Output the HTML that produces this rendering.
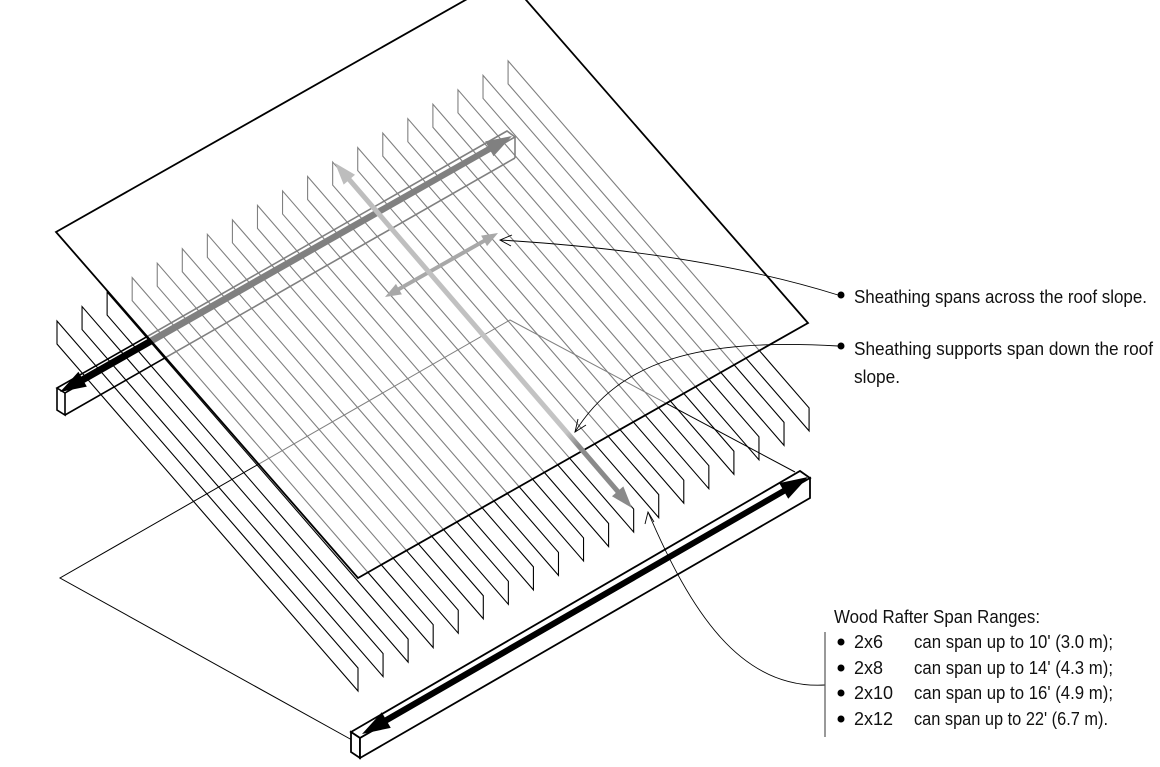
<!DOCTYPE html>
<html><head><meta charset="utf-8"><style>
html,body{margin:0;padding:0;background:#fff;}
svg{display:block;}
text{font-family:"Liberation Sans Narrow","Liberation Sans",sans-serif;font-size:18px;fill:#111;}
</style></head><body>
<svg id="fig" width="1160" height="767" viewBox="0 0 1160 767" xmlns="http://www.w3.org/2000/svg">
<defs>
<linearGradient id="downGrad" gradientUnits="userSpaceOnUse" x1="335" y1="163" x2="632" y2="508">
<stop offset="0" stop-color="#bdbdbd"/><stop offset="0.78" stop-color="#c4c4c4"/><stop offset="0.82" stop-color="#8a8a8a"/><stop offset="1" stop-color="#8a8a8a"/>
</linearGradient>
</defs>
<g id="rafters" fill="none" stroke="#000" stroke-width="1.1"></g>
<g fill="none" stroke="#000" stroke-width="1">
<polyline points="352,740 60,578 510,320 795,472"/>
</g>
<g id="topbeam" fill="none" stroke="#000" stroke-width="1.6">
<polygon points="57,388 507,131 515,137 65,393"/>
<polyline points="57,388 57,410 65,415 65,393"/>
<line x1="65" y1="415" x2="515" y2="158"/>
<line x1="515" y1="137" x2="515" y2="158"/>
</g>
<g id="topArrow"></g>
<polygon points="56,232 506,-23 808,323 358,578" fill="#fff" fill-opacity="0.5" stroke="#000" stroke-width="1.8"/>
<g id="arrows"></g>
<g id="bottombeam" fill="#fff" stroke="#000" stroke-width="1.8">
<polygon points="351,732 800,471 810,478 360,738"/>
<polygon points="351,732 360,738 360,758 351,752"/>
<polygon points="360,738 810,478 810,498 360,758"/>
</g>
<g id="bottomArrow"></g>
<g fill="none" stroke="#000" stroke-width="0.9">
<path d="M838,295 Q700,252 500,240"/>
<polyline points="512,235 500,240 511,246"/>
<path d="M838,346 C700,338 620,360 575,432"/>
<polyline points="578,419 575,432 586,425"/>
<path d="M825,685 C740,690 690,610 648,512"/>
<polyline points="645,524 648,512 654,522"/>
<line x1="825" y1="632" x2="825" y2="737" stroke="#555" stroke-width="1.2"/>
</g>
<g>
<circle cx="841" cy="295" r="3.5" fill="#000"/>
<text x="854" y="303" textLength="293" lengthAdjust="spacingAndGlyphs">Sheathing spans across the roof slope.</text>
<circle cx="841" cy="346" r="3.5" fill="#000"/>
<text x="854" y="355" textLength="299" lengthAdjust="spacingAndGlyphs">Sheathing supports span down the roof</text>
<text x="854" y="383" textLength="46" lengthAdjust="spacingAndGlyphs">slope.</text>
</g>
<g id="legend">
<text x="834" y="623" textLength="206" lengthAdjust="spacingAndGlyphs">Wood Rafter Span Ranges:</text>
</g>
</svg>
<script>
const rafterIndex = [0,1,2,3,4,5,6,7,8,9,10,11,12,13,14,15,16,17,18];
const sizes = ["2x6","2x8","2x10","2x12"];
const spans = ["can span up to 10' (3.0 m);","can span up to 14' (4.3 m);","can span up to 16' (4.9 m);","can span up to 22' (6.7 m)."];
const NS="http://www.w3.org/2000/svg";
const rg=document.getElementById('rafters');
rafterIndex.forEach(i=>{
  const x0=57+25.06*i, y0=321-14.45*i, x1=x0+301, y1=y0+347, h=23;
  const p=document.createElementNS(NS,'polygon');
  p.setAttribute('points',`${x0},${y0} ${x1},${y1} ${x1},${y1+h} ${x0},${y0+h}`);
  
  
  rg.appendChild(p);
});
function arrow(parent,x1,y1,x2,y2,w,hl,hw,color,h1,h2){
  const dx=x2-x1,dy=y2-y1,L=Math.hypot(dx,dy),ux=dx/L,uy=dy/L,nx=-uy,ny=ux;
  const sx=h1?x1+ux*hl*0.8:x1, sy=h1?y1+uy*hl*0.8:y1, ex=h2?x2-ux*hl*0.8:x2, ey=h2?y2-uy*hl*0.8:y2;
  const l=document.createElementNS(NS,'line');
  l.setAttribute('x1',sx);l.setAttribute('y1',sy);l.setAttribute('x2',ex);l.setAttribute('y2',ey);
  l.setAttribute('stroke',color);l.setAttribute('stroke-width',w);
  
  
  parent.appendChild(l);
  const head=(tx,ty,dxu,dyu)=>{
    const bx=tx-dxu*hl,by=ty-dyu*hl;
    const pg=document.createElementNS(NS,'polygon');
    pg.setAttribute('points',`${tx},${ty} ${bx+nx*hw/2},${by+ny*hw/2} ${bx-nx*hw/2},${by-ny*hw/2}`);
    pg.setAttribute('fill',color);
    
    
    parent.appendChild(pg);
  };
  if(h2) head(x2,y2,ux,uy);
  if(h1) head(x1,y1,-ux,-uy);
}
arrow(document.getElementById('topArrow'),60,392,512,136,6,26,17,'#000',true,true);
const ar=document.getElementById('arrows');
arrow(ar,385,297,498,233,4,16,12,'#a8a8a8',true,true);
arrow(ar,335,163,632,508,5,22,15,'url(#downGrad)',true,true);
ar.lastChild.setAttribute('fill','#bdbdbd');
ar.children[ar.children.length-2].setAttribute('fill','#8a8a8a');
arrow(document.getElementById('bottomArrow'),362,734,808,477,6,28,18,'#000',true,true);
const lg=document.getElementById('legend');
const rowsY=[648,674,699,725];
sizes.forEach((s,i)=>{
  const c=document.createElementNS(NS,'circle');
  c.setAttribute('cx',841);c.setAttribute('cy',rowsY[i]-6);c.setAttribute('r',3.5);c.setAttribute('fill','#000');
  
  
  lg.appendChild(c);
  const t=document.createElementNS(NS,'text');
  t.setAttribute('x',854);t.setAttribute('y',rowsY[i]);t.textContent=s;
  
  
  lg.appendChild(t);
  const t2=document.createElementNS(NS,'text');
  t2.setAttribute('x',914);t2.setAttribute('y',rowsY[i]);t2.textContent=spans[i];
  t2.setAttribute('textLength',i==3?194:199);t2.setAttribute('lengthAdjust','spacingAndGlyphs');
  
  
  lg.appendChild(t2);
});
</script>
</body></html>
